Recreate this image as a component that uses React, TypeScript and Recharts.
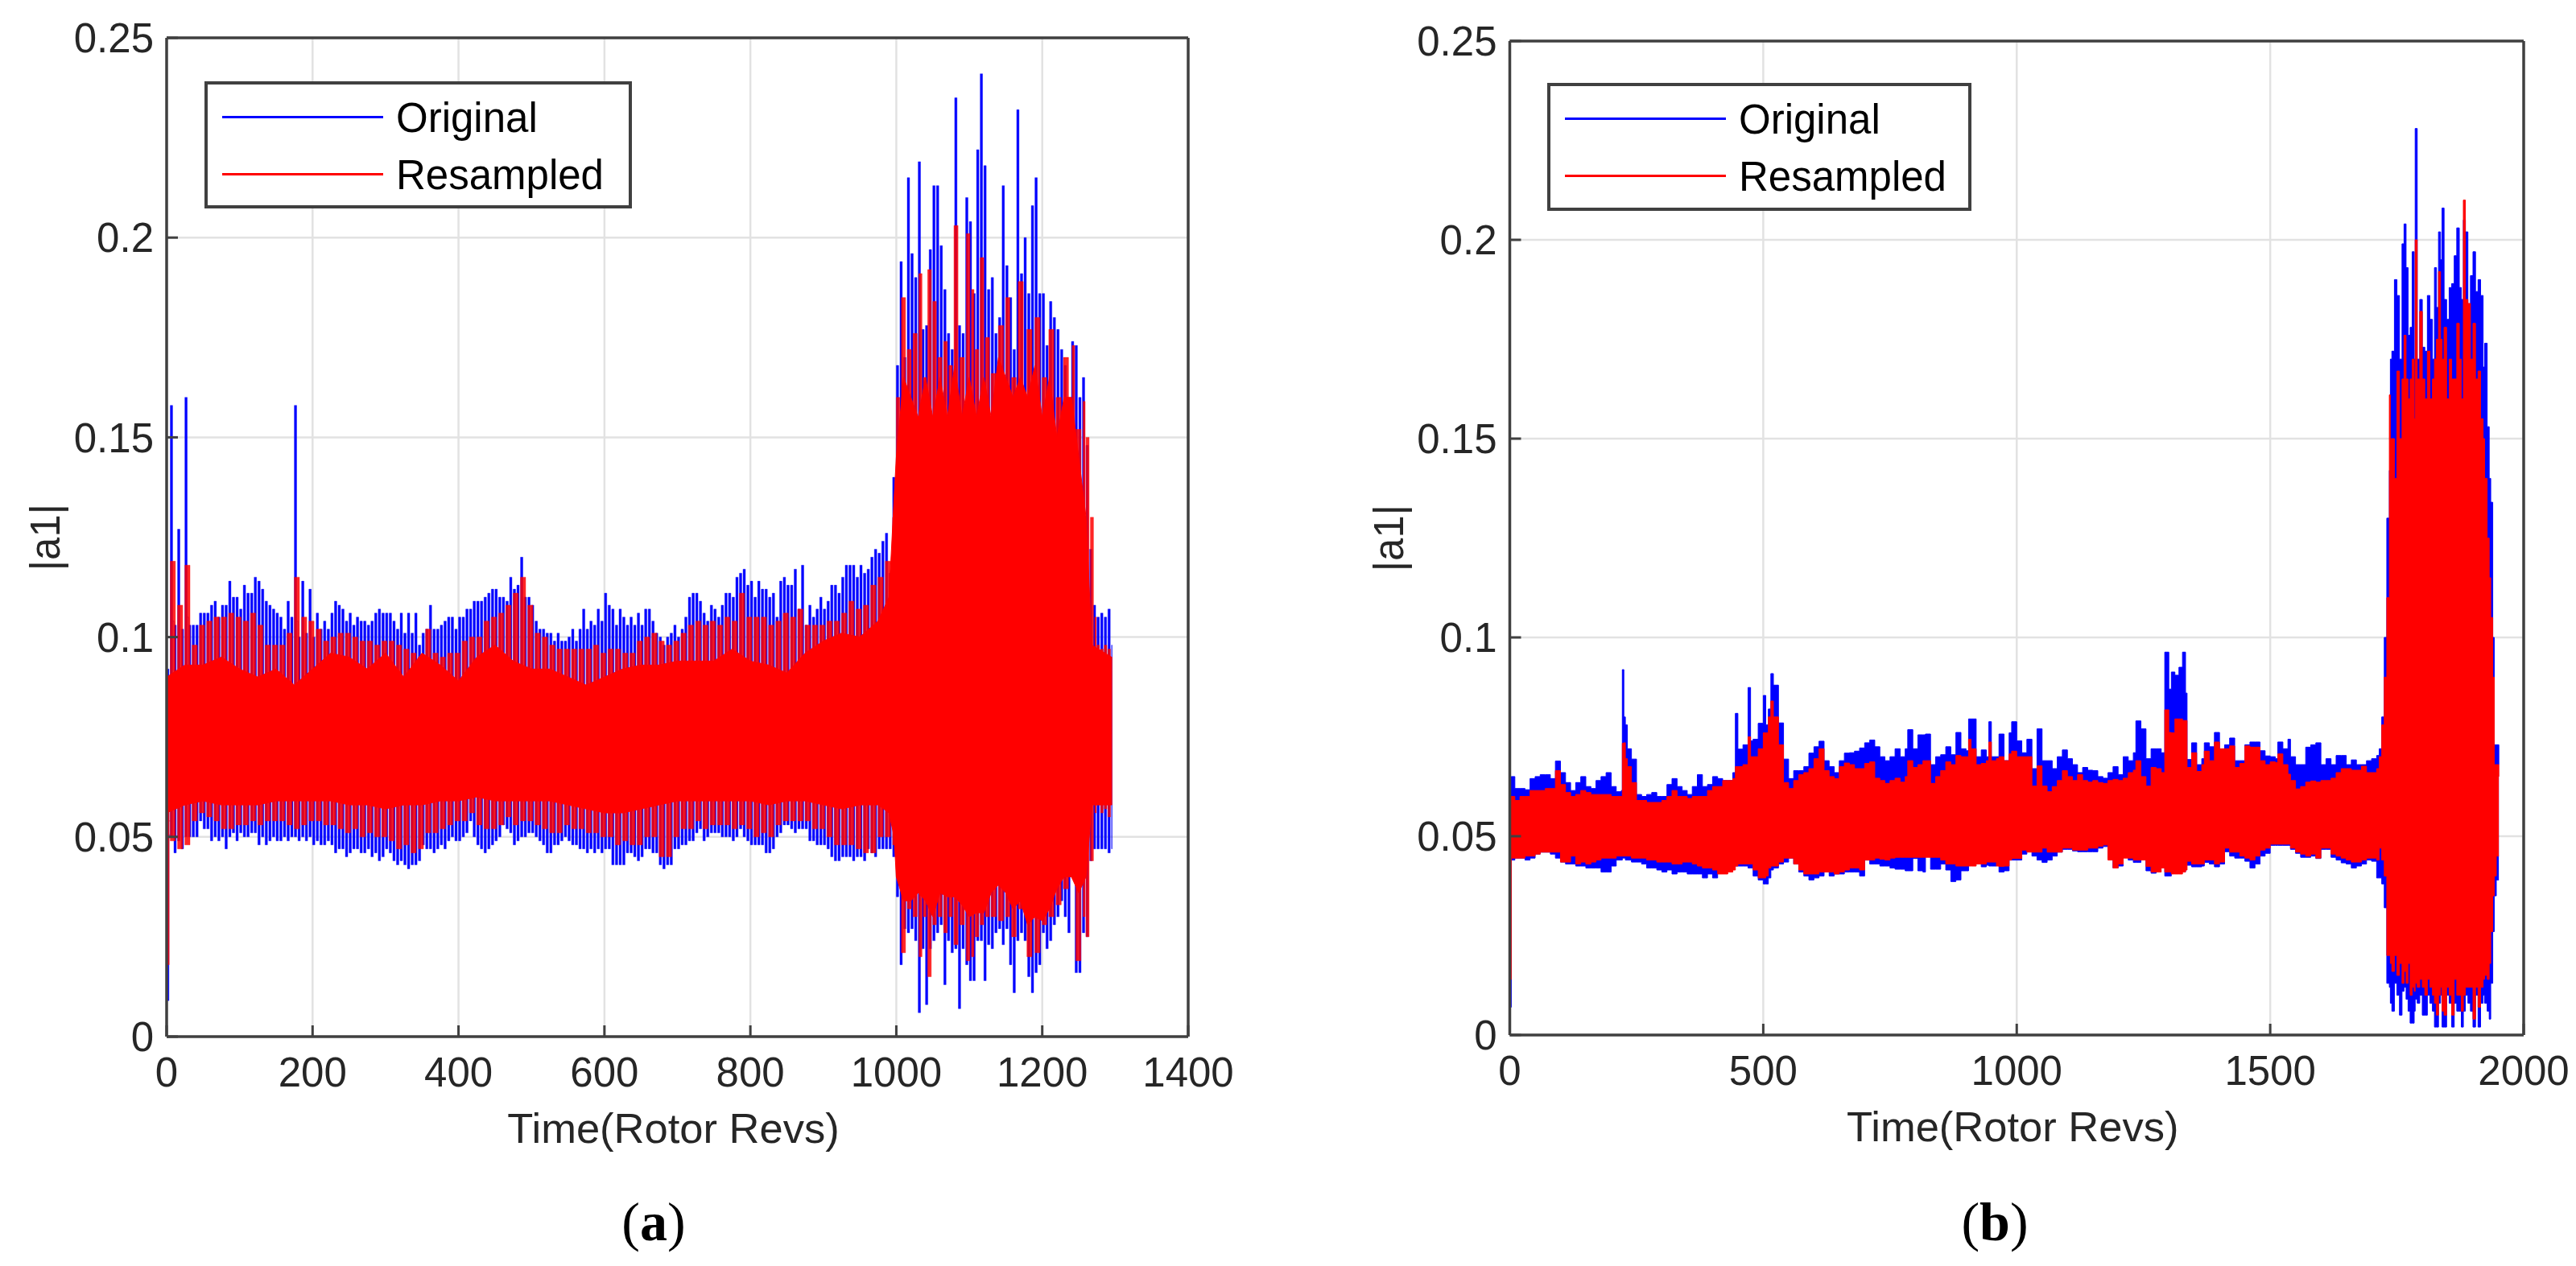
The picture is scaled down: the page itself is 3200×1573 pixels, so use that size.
import React from 'react';
import {
  Area,
  CartesianGrid,
  ComposedChart,
  Legend,
  XAxis,
  YAxis,
} from 'recharts';

const X_LABEL = 'Time(Rotor Revs)';
const Y_LABEL = '|a1|';
const SERIES_NAMES = ['Original', 'Resampled'];
const Y_TICKS = [0, 0.05, 0.1, 0.15, 0.2, 0.25];
const X_TICKS_A = [0, 200, 400, 600, 800, 1000, 1200, 1400];
const X_TICKS_B = [0, 500, 1000, 1500, 2000];

// Panel (a): original signal, one tooth per sample
const originalTimesA = [
  0, 5, 10, 15, 20, 25, 30, 35, 40, 45, 50, 55, 60, 65, 70, 75, 80, 85, 90, 95,
  100, 105, 110, 115, 120, 125, 130, 135, 140, 145, 150, 155, 160, 165, 170, 175, 180, 185, 190, 195,
  200, 205, 210, 215, 220, 225, 230, 235, 240, 245, 250, 255, 260, 265, 270, 275, 280, 285, 290, 295,
  300, 305, 310, 315, 320, 325, 330, 335, 340, 345, 350, 355, 360, 365, 370, 375, 380, 385, 390, 395,
  400, 405, 410, 415, 420, 425, 430, 435, 440, 445, 450, 455, 460, 465, 470, 475, 480, 485, 490, 495,
  500, 505, 510, 515, 520, 525, 530, 535, 540, 545, 550, 555, 560, 565, 570, 575, 580, 585, 590, 595,
  600, 605, 610, 615, 620, 625, 630, 635, 640, 645, 650, 655, 660, 665, 670, 675, 680, 685, 690, 695,
  700, 705, 710, 715, 720, 725, 730, 735, 740, 745, 750, 755, 760, 765, 770, 775, 780, 785, 790, 795,
  800, 805, 810, 815, 820, 825, 830, 835, 840, 845, 850, 855, 860, 865, 870, 875, 880, 885, 890, 895,
  900, 905, 910, 915, 920, 925, 930, 935, 940, 945, 950, 955, 960, 965, 970, 975, 980, 985, 990, 995,
  1000, 1005, 1010, 1015, 1020, 1025, 1030, 1035, 1040, 1045, 1050, 1055, 1060, 1065, 1070, 1075, 1080, 1085, 1090, 1095,
  1100, 1105, 1110, 1115, 1120, 1125, 1130, 1135, 1140, 1145, 1150, 1155, 1160, 1165, 1170, 1175, 1180, 1185, 1190, 1195,
  1200, 1205, 1210, 1215, 1220, 1225, 1230, 1235, 1240, 1245, 1250, 1255, 1260, 1265, 1270, 1275, 1280, 1285, 1290, 1295,
];
const originalHighA = [
  0.092, 0.158, 0.103, 0.127, 0.102, 0.16, 0.103, 0.103, 0.103, 0.106, 0.106, 0.106, 0.108, 0.109, 0.105, 0.108, 0.108, 0.114, 0.11, 0.11,
  0.107, 0.113, 0.111, 0.111, 0.115, 0.114, 0.112, 0.109, 0.108, 0.107, 0.106, 0.105, 0.102, 0.109, 0.105, 0.158, 0.1, 0.114, 0.101, 0.112,
  0.1, 0.106, 0.102, 0.104, 0.102, 0.106, 0.109, 0.108, 0.107, 0.104, 0.106, 0.103, 0.105, 0.104, 0.104, 0.103, 0.104, 0.106, 0.107, 0.106,
  0.106, 0.106, 0.104, 0.102, 0.106, 0.101, 0.106, 0.101, 0.106, 0.098, 0.101, 0.102, 0.108, 0.102, 0.102, 0.103, 0.104, 0.105, 0.105, 0.102,
  0.105, 0.105, 0.107, 0.107, 0.109, 0.109, 0.109, 0.11, 0.111, 0.112, 0.112, 0.11, 0.11, 0.109, 0.115, 0.112, 0.113, 0.12, 0.11, 0.11,
  0.108, 0.104, 0.102, 0.102, 0.101, 0.101, 0.099, 0.101, 0.099, 0.099, 0.1, 0.102, 0.099, 0.102, 0.107, 0.102, 0.104, 0.103, 0.107, 0.104,
  0.111, 0.108, 0.107, 0.103, 0.107, 0.105, 0.103, 0.105, 0.103, 0.106, 0.103, 0.107, 0.107, 0.104, 0.101, 0.1, 0.098, 0.1, 0.101, 0.103,
  0.1, 0.102, 0.105, 0.11, 0.111, 0.111, 0.109, 0.106, 0.104, 0.108, 0.107, 0.105, 0.108, 0.111, 0.111, 0.11, 0.115, 0.116, 0.117, 0.113,
  0.114, 0.11, 0.114, 0.112, 0.112, 0.11, 0.111, 0.105, 0.114, 0.115, 0.113, 0.113, 0.117, 0.107, 0.118, 0.103, 0.108, 0.105, 0.107, 0.11,
  0.107, 0.109, 0.113, 0.113, 0.111, 0.115, 0.118, 0.118, 0.118, 0.115, 0.118, 0.116, 0.117, 0.12, 0.122, 0.121, 0.124, 0.126, 0.116, 0.14,
  0.168, 0.194, 0.17, 0.215, 0.196, 0.19, 0.219, 0.177, 0.178, 0.197, 0.213, 0.213, 0.198, 0.187, 0.176, 0.172, 0.235, 0.178, 0.176, 0.21,
  0.204, 0.186, 0.222, 0.241, 0.218, 0.187, 0.19, 0.176, 0.18, 0.213, 0.193, 0.185, 0.172, 0.232, 0.191, 0.2, 0.186, 0.208, 0.215, 0.186,
  0.186, 0.173, 0.184, 0.18, 0.177, 0.172, 0.168, 0.157, 0.174, 0.173, 0.16, 0.165, 0.148, 0.122, 0.108, 0.105, 0.106, 0.105, 0.107, 0.098,
];
const originalLowA = [
  0.009, 0.05, 0.046, 0.049, 0.047, 0.05, 0.05, 0.05, 0.05, 0.054, 0.052, 0.052, 0.049, 0.05, 0.049, 0.05, 0.047, 0.05, 0.051, 0.049,
  0.051, 0.05, 0.05, 0.051, 0.051, 0.048, 0.05, 0.048, 0.049, 0.05, 0.049, 0.049, 0.05, 0.049, 0.05, 0.05, 0.049, 0.05, 0.049, 0.05,
  0.048, 0.049, 0.048, 0.048, 0.049, 0.048, 0.046, 0.047, 0.047, 0.045, 0.046, 0.047, 0.047, 0.046, 0.046, 0.047, 0.045, 0.046, 0.044, 0.045,
  0.047, 0.046, 0.044, 0.043, 0.044, 0.043, 0.042, 0.043, 0.043, 0.044, 0.048, 0.047, 0.047, 0.046, 0.047, 0.048, 0.047, 0.049, 0.05, 0.049,
  0.049, 0.05, 0.051, 0.054, 0.05, 0.048, 0.047, 0.046, 0.047, 0.048, 0.049, 0.05, 0.053, 0.052, 0.051, 0.048, 0.049, 0.05, 0.05, 0.051,
  0.051, 0.05, 0.049, 0.048, 0.046, 0.046, 0.048, 0.048, 0.049, 0.05, 0.049, 0.048, 0.048, 0.047, 0.047, 0.046, 0.047, 0.046, 0.047, 0.046,
  0.047, 0.047, 0.043, 0.043, 0.043, 0.043, 0.046, 0.046, 0.045, 0.044, 0.045, 0.047, 0.047, 0.046, 0.046, 0.043, 0.042, 0.043, 0.043, 0.047,
  0.047, 0.048, 0.048, 0.049, 0.049, 0.051, 0.052, 0.049, 0.05, 0.051, 0.051, 0.051, 0.05, 0.05, 0.05, 0.049, 0.05, 0.052, 0.05, 0.049,
  0.048, 0.048, 0.048, 0.048, 0.046, 0.046, 0.047, 0.05, 0.051, 0.053, 0.053, 0.052, 0.051, 0.052, 0.052, 0.052, 0.049, 0.049, 0.048, 0.048,
  0.048, 0.047, 0.045, 0.044, 0.044, 0.045, 0.045, 0.045, 0.044, 0.045, 0.045, 0.044, 0.047, 0.046, 0.045, 0.047, 0.047, 0.047, 0.047, 0.045,
  0.035, 0.018, 0.027, 0.026, 0.027, 0.024, 0.006, 0.022, 0.008, 0.022, 0.024, 0.026, 0.028, 0.013, 0.024, 0.021, 0.022, 0.007, 0.022, 0.018,
  0.014, 0.014, 0.024, 0.024, 0.014, 0.023, 0.022, 0.026, 0.027, 0.023, 0.027, 0.018, 0.011, 0.024, 0.026, 0.024, 0.015, 0.011, 0.016, 0.018,
  0.026, 0.022, 0.024, 0.028, 0.03, 0.034, 0.03, 0.026, 0.04, 0.016, 0.016, 0.026, 0.025, 0.044, 0.047, 0.047, 0.047, 0.047, 0.046, 0.047,
];

// Panel (a): resampled signal
const resampledTimesA = [
  0, 5, 15, 25, 35, 45, 55, 65, 75, 85,
  95, 105, 115, 125, 135, 145, 155, 165, 175, 185,
  195, 205, 215, 225, 235, 245, 255, 265, 275, 285,
  295, 305, 315, 325, 335, 345, 355, 365, 375, 385,
  395, 405, 415, 425, 435, 445, 455, 465, 475, 485,
  495, 505, 515, 525, 535, 545, 555, 565, 575, 585,
  595, 605, 615, 625, 635, 645, 655, 665, 675, 685,
  695, 705, 715, 725, 735, 745, 755, 765, 775, 785,
  795, 805, 815, 825, 835, 845, 855, 865, 875, 885,
  895, 905, 915, 925, 935, 945, 955, 965, 975, 985,
  995, 1000, 1007, 1015, 1023, 1031, 1037, 1043, 1050, 1057,
  1065, 1072, 1079, 1087, 1096, 1103, 1108, 1115, 1122, 1130,
  1140, 1150, 1158, 1167, 1179, 1190, 1200, 1209, 1219, 1229,
  1241, 1246, 1256, 1260, 1266, 1272, 1275, 1280, 1285, 1290,
  1295,
];
const resampledHighA = [
  0.09, 0.119, 0.108, 0.118, 0.098, 0.103, 0.104, 0.105, 0.105, 0.106,
  0.105, 0.104, 0.106, 0.103, 0.098, 0.098, 0.098, 0.101, 0.115, 0.105,
  0.104, 0.102, 0.099, 0.1, 0.101, 0.101, 0.1, 0.099, 0.099, 0.098,
  0.099, 0.099, 0.098, 0.097, 0.096, 0.095, 0.102, 0.096, 0.095, 0.096,
  0.096, 0.099, 0.1, 0.1, 0.104, 0.105, 0.106, 0.108, 0.111, 0.115,
  0.108, 0.101, 0.1, 0.098, 0.097, 0.097, 0.097, 0.097, 0.097, 0.098,
  0.096, 0.097, 0.097, 0.096, 0.096, 0.099, 0.1, 0.101, 0.099, 0.098,
  0.099, 0.101, 0.103, 0.104, 0.103, 0.104, 0.103, 0.105, 0.104, 0.111,
  0.105, 0.105, 0.105, 0.103, 0.104, 0.106, 0.105, 0.107, 0.103, 0.103,
  0.103, 0.104, 0.104, 0.106, 0.109, 0.107, 0.108, 0.113, 0.115, 0.119,
  0.13, 0.16, 0.185, 0.172, 0.176, 0.191, 0.165, 0.192, 0.184, 0.17,
  0.174, 0.168, 0.203, 0.17, 0.201, 0.187, 0.172, 0.195, 0.175, 0.166,
  0.178, 0.185, 0.165, 0.189, 0.177, 0.18, 0.165, 0.177, 0.16, 0.17,
  0.173, 0.152, 0.159, 0.15, 0.13, 0.105, 0.098, 0.097, 0.098, 0.097,
  0.095,
];
const resampledLowA = [
  0.018, 0.049, 0.047, 0.048, 0.054, 0.056, 0.055, 0.054, 0.052, 0.052,
  0.053, 0.053, 0.054, 0.053, 0.054, 0.054, 0.054, 0.053, 0.052, 0.053,
  0.054, 0.054, 0.053, 0.053, 0.052, 0.051, 0.052, 0.05, 0.051, 0.05,
  0.05, 0.049, 0.047, 0.048, 0.046, 0.047, 0.051, 0.051, 0.052, 0.053,
  0.054, 0.054, 0.056, 0.053, 0.052, 0.052, 0.053, 0.055, 0.053, 0.054,
  0.054, 0.053, 0.052, 0.051, 0.051, 0.053, 0.052, 0.052, 0.051, 0.051,
  0.05, 0.05, 0.048, 0.049, 0.048, 0.048, 0.05, 0.05, 0.045, 0.045,
  0.05, 0.052, 0.052, 0.054, 0.052, 0.053, 0.053, 0.053, 0.052, 0.053,
  0.052, 0.05, 0.051, 0.05, 0.053, 0.054, 0.054, 0.054, 0.054, 0.052,
  0.052, 0.05, 0.048, 0.048, 0.048, 0.047, 0.046, 0.046, 0.05, 0.05,
  0.048, 0.04, 0.021, 0.032, 0.03, 0.02, 0.03, 0.015, 0.028, 0.03,
  0.026, 0.03, 0.023, 0.028, 0.019, 0.02, 0.025, 0.028, 0.03, 0.03,
  0.029, 0.03, 0.025, 0.032, 0.02, 0.021, 0.028, 0.03, 0.033, 0.037,
  0.04, 0.019, 0.03, 0.025, 0.044, 0.056, 0.058, 0.056, 0.057, 0.055,
  0.058,
];

// Panel (a): solid part of the resampled band
const coreTimesA = [
  0, 25, 50, 75, 100, 125, 150, 175, 200, 225,
  250, 275, 300, 325, 350, 375, 400, 425, 450, 475,
  500, 525, 550, 575, 600, 625, 650, 675, 700, 725,
  750, 775, 800, 825, 850, 875, 900, 925, 950, 975,
  990, 997, 1000, 1010, 1020, 1030, 1040, 1050, 1060, 1070,
  1080, 1090, 1100, 1110, 1120, 1130, 1140, 1150, 1160, 1170,
  1180, 1190, 1200, 1210, 1220, 1230, 1240, 1250, 1260, 1268,
  1295,
];
const coreTopA = [
  0.09, 0.093, 0.093, 0.095, 0.092, 0.09, 0.092, 0.088, 0.092, 0.096,
  0.095, 0.092, 0.096, 0.09, 0.096, 0.093, 0.089, 0.095, 0.098, 0.094,
  0.092, 0.092, 0.09, 0.088, 0.09, 0.092, 0.093, 0.093, 0.094, 0.094,
  0.094, 0.097, 0.094, 0.093, 0.091, 0.096, 0.099, 0.101, 0.1, 0.104,
  0.11, 0.135, 0.145, 0.165, 0.16, 0.155, 0.165, 0.155, 0.165, 0.155,
  0.168, 0.155, 0.165, 0.155, 0.165, 0.155, 0.17, 0.165, 0.16, 0.165,
  0.16, 0.168, 0.155, 0.165, 0.15, 0.16, 0.16, 0.145, 0.13, 0.098,
  0.095,
];
const coreBottomA = [
  0.056, 0.058, 0.059, 0.058, 0.058, 0.058, 0.059, 0.059, 0.059, 0.059,
  0.058, 0.058, 0.057, 0.058, 0.058, 0.059, 0.059, 0.06, 0.059, 0.059,
  0.059, 0.059, 0.058, 0.057, 0.056, 0.056, 0.057, 0.058, 0.059, 0.059,
  0.059, 0.059, 0.059, 0.058, 0.059, 0.059, 0.058, 0.057, 0.058, 0.058,
  0.056, 0.05, 0.04, 0.034, 0.034, 0.036, 0.034, 0.03, 0.036, 0.035,
  0.035, 0.033, 0.03, 0.031, 0.031, 0.036, 0.038, 0.036, 0.032, 0.034,
  0.028, 0.03, 0.029, 0.032, 0.037, 0.04, 0.04, 0.036, 0.04, 0.058,
  0.058,
];

// Panel (b): both signals share the sample times
const timesB = [
  0, 3, 10, 20, 30, 40, 50, 60, 70, 80,
  90, 100, 110, 120, 130, 140, 150, 160, 170, 180,
  190, 200, 210, 220, 222, 225, 228, 232, 240, 250,
  260, 270, 280, 290, 300, 310, 320, 330, 340, 350,
  360, 370, 380, 390, 400, 410, 420, 430, 440, 445,
  450, 460, 470, 475, 480, 490, 500, 505, 510, 515,
  520, 530, 540, 550, 560, 570, 580, 590, 600, 610,
  620, 630, 640, 650, 660, 670, 680, 690, 700, 710,
  720, 730, 740, 750, 760, 770, 780, 785, 795, 805,
  815, 820, 830, 840, 850, 860, 870, 880, 890, 900,
  905, 910, 920, 930, 940, 945, 950, 960, 965, 975,
  985, 990, 1000, 1010, 1020, 1030, 1040, 1050, 1060, 1070,
  1080, 1090, 1100, 1110, 1120, 1130, 1140, 1150, 1160, 1170,
  1180, 1190, 1200, 1210, 1220, 1230, 1235, 1245, 1255, 1265,
  1275, 1285, 1292, 1300, 1305, 1312, 1320, 1327, 1333, 1336,
  1345, 1355, 1365, 1370, 1380, 1390, 1400, 1410, 1420, 1430,
  1440, 1450, 1460, 1470, 1480, 1490, 1500, 1510, 1515, 1525,
  1535, 1540, 1550, 1560, 1570, 1580, 1590, 1600, 1610, 1620,
  1630, 1640, 1650, 1660, 1670, 1680, 1690, 1700, 1710, 1715,
  1720, 1725, 1730, 1735, 1737, 1740, 1745, 1750, 1755, 1760,
  1764, 1768, 1772, 1776, 1780, 1784, 1786, 1790, 1795, 1800,
  1805, 1810, 1815, 1820, 1824, 1828, 1832, 1836, 1839, 1843,
  1848, 1853, 1858, 1863, 1868, 1873, 1877, 1881, 1885, 1890,
  1895, 1900, 1905, 1910, 1915, 1920, 1923, 1928, 1932, 1935,
  1939, 1942, 1946, 1951,
];
const originalHighB = [
  0.065, 0.065, 0.062, 0.062, 0.0617, 0.0645, 0.065, 0.0655, 0.0655, 0.0645,
  0.0689, 0.066, 0.0635, 0.0615, 0.0635, 0.065, 0.0625, 0.062, 0.064, 0.065,
  0.066, 0.0625, 0.0612, 0.0615, 0.0919, 0.08, 0.078, 0.072, 0.0694, 0.0605,
  0.06, 0.0605, 0.061, 0.06, 0.06, 0.063, 0.0645, 0.0625, 0.0615, 0.0605,
  0.0625, 0.0655, 0.0625, 0.063, 0.065, 0.0645, 0.064, 0.064, 0.066, 0.0809,
  0.0719, 0.073, 0.0874, 0.074, 0.0744, 0.0784, 0.0854, 0.078, 0.082, 0.0909,
  0.088, 0.0785, 0.0694, 0.0645, 0.0665, 0.0665, 0.0675, 0.0709, 0.0725, 0.0739,
  0.069, 0.0675, 0.066, 0.069, 0.0709, 0.071, 0.0714, 0.0722, 0.0735, 0.0742,
  0.0725, 0.07, 0.069, 0.07, 0.072, 0.07, 0.072, 0.0768, 0.072, 0.0755,
  0.0755, 0.0757, 0.068, 0.07, 0.0705, 0.0725, 0.0705, 0.0761, 0.072, 0.0715,
  0.0795, 0.0795, 0.07, 0.0717, 0.07, 0.0788, 0.07, 0.07, 0.0757, 0.069,
  0.076, 0.0788, 0.074, 0.071, 0.0744, 0.067, 0.077, 0.069, 0.069, 0.067,
  0.07, 0.0717, 0.0695, 0.068, 0.066, 0.0673, 0.0666, 0.0665, 0.065, 0.0646,
  0.066, 0.0675, 0.0655, 0.07, 0.069, 0.071, 0.079, 0.077, 0.0695, 0.072,
  0.072, 0.071, 0.0963, 0.087, 0.0913, 0.0905, 0.0925, 0.0963, 0.086, 0.0693,
  0.0735, 0.068, 0.0695, 0.0735, 0.0725, 0.0761, 0.069, 0.073, 0.0747, 0.069,
  0.069, 0.073, 0.0737, 0.0737, 0.0715, 0.0702, 0.07, 0.0695, 0.0737, 0.072,
  0.0744, 0.07, 0.068, 0.068, 0.0724, 0.073, 0.0735, 0.068, 0.0695, 0.068,
  0.0703, 0.0703, 0.068, 0.0692, 0.068, 0.068, 0.069, 0.0695, 0.0703, 0.072,
  0.08, 0.1, 0.13, 0.142, 0.17, 0.172, 0.19, 0.186, 0.17, 0.199,
  0.204, 0.193, 0.176, 0.178, 0.197, 0.17, 0.228, 0.17, 0.185, 0.173,
  0.172, 0.186, 0.18, 0.17, 0.193, 0.183, 0.202, 0.195, 0.208, 0.185,
  0.18, 0.188, 0.189, 0.196, 0.203, 0.188, 0.185, 0.205, 0.202, 0.178,
  0.191, 0.197, 0.187, 0.19, 0.186, 0.168, 0.174, 0.153, 0.14, 0.134,
  0.1, 0.073, 0.073, 0.068,
];
const originalLowB = [
  0.007, 0.044, 0.0445, 0.0445, 0.044, 0.0445, 0.0455, 0.046, 0.046, 0.0455,
  0.0445, 0.0435, 0.043, 0.043, 0.0425, 0.0425, 0.042, 0.042, 0.042, 0.041,
  0.041, 0.0425, 0.044, 0.044, 0.0445, 0.0445, 0.044, 0.044, 0.0435, 0.0435,
  0.043, 0.042, 0.042, 0.0415, 0.041, 0.0415, 0.0405, 0.041, 0.041, 0.0405,
  0.0405, 0.0405, 0.0395, 0.0405, 0.0395, 0.041, 0.0415, 0.042, 0.0425, 0.0425,
  0.0425, 0.0425, 0.042, 0.042, 0.04, 0.039, 0.038, 0.038, 0.0395, 0.0415,
  0.042, 0.043, 0.0435, 0.0445, 0.043, 0.041, 0.04, 0.039, 0.0395, 0.04,
  0.041, 0.04, 0.0405, 0.0405, 0.041, 0.041, 0.041, 0.04, 0.044, 0.043,
  0.043, 0.0425, 0.0425, 0.042, 0.0417, 0.0417, 0.0413, 0.0413, 0.0444, 0.0413,
  0.041, 0.0457, 0.0417, 0.0417, 0.043, 0.0415, 0.0386, 0.039, 0.0413, 0.0413,
  0.043, 0.0447, 0.0447, 0.0423, 0.0427, 0.0425, 0.0425, 0.0427, 0.041, 0.0413,
  0.044, 0.044, 0.044, 0.0455, 0.0467, 0.045, 0.044, 0.0434, 0.044, 0.045,
  0.046, 0.0467, 0.0467, 0.0463, 0.0461, 0.0461, 0.0461, 0.0461, 0.047, 0.0474,
  0.0444, 0.042, 0.0425, 0.045, 0.044, 0.0434, 0.0434, 0.045, 0.0413, 0.0407,
  0.042, 0.043, 0.04, 0.04, 0.041, 0.041, 0.041, 0.041, 0.043, 0.0427,
  0.0423, 0.0423, 0.0425, 0.0434, 0.043, 0.0423, 0.043, 0.0461, 0.045, 0.0445,
  0.0445, 0.0437, 0.042, 0.043, 0.045, 0.0457, 0.0477, 0.0477, 0.0477, 0.0477,
  0.0477, 0.0467, 0.0457, 0.0447, 0.0447, 0.045, 0.0444, 0.0467, 0.0467, 0.0447,
  0.044, 0.0433, 0.043, 0.042, 0.0425, 0.043, 0.044, 0.0437, 0.0395, 0.0395,
  0.038, 0.032, 0.013, 0.012, 0.008, 0.006, 0.013, 0.01, 0.005, 0.011,
  0.012, 0.009, 0.006, 0.003, 0.003, 0.006, 0.009, 0.008, 0.01, 0.005,
  0.005, 0.01, 0.008, 0.006, 0.002, 0.002, 0.008, 0.01, 0.002, 0.002,
  0.01, 0.008, 0.002, 0.008, 0.006, 0.006, 0.002, 0.006, 0.01, 0.008,
  0.006, 0.002, 0.01, 0.002, 0.008, 0.01, 0.008, 0.006, 0.004, 0.013,
  0.026, 0.035, 0.039, 0.039,
];
const resampledHighB = [
  0.06, 0.06, 0.059, 0.06, 0.06, 0.0615, 0.0615, 0.0615, 0.062, 0.062,
  0.0665, 0.063, 0.061, 0.06, 0.0605, 0.0615, 0.061, 0.0605, 0.0605, 0.0605,
  0.0605, 0.06, 0.06, 0.06, 0.0734, 0.0735, 0.0695, 0.0675, 0.0635, 0.059,
  0.059, 0.0585, 0.0585, 0.0585, 0.059, 0.06, 0.0615, 0.06, 0.06, 0.0595,
  0.06, 0.06, 0.06, 0.0615, 0.0625, 0.0625, 0.064, 0.064, 0.0645, 0.0675,
  0.0675, 0.068, 0.075, 0.07, 0.07, 0.072, 0.076, 0.076, 0.08, 0.084,
  0.08, 0.073, 0.0635, 0.062, 0.064, 0.0655, 0.066, 0.067, 0.0695, 0.072,
  0.0665, 0.065, 0.0645, 0.0675, 0.0684, 0.068, 0.067, 0.067, 0.0683, 0.0687,
  0.0646, 0.064, 0.0633, 0.064, 0.0646, 0.0636, 0.065, 0.069, 0.0673, 0.068,
  0.069, 0.069, 0.0633, 0.065, 0.0665, 0.0687, 0.068, 0.0703, 0.07, 0.07,
  0.0744, 0.072, 0.068, 0.0683, 0.069, 0.0737, 0.069, 0.0695, 0.07, 0.069,
  0.0707, 0.0714, 0.07, 0.07, 0.07, 0.0626, 0.0677, 0.0626, 0.0612, 0.0625,
  0.064, 0.0665, 0.065, 0.064, 0.0655, 0.064, 0.0636, 0.064, 0.0635, 0.0633,
  0.064, 0.0643, 0.064, 0.0646, 0.066, 0.0666, 0.069, 0.065, 0.0626, 0.0673,
  0.067, 0.066, 0.0818, 0.0761, 0.076, 0.0795, 0.0795, 0.0791, 0.0791, 0.0673,
  0.071, 0.0663, 0.068, 0.0714, 0.069, 0.0737, 0.072, 0.072, 0.0727, 0.0673,
  0.0683, 0.0727, 0.0724, 0.0724, 0.069, 0.068, 0.0687, 0.0685, 0.0707, 0.068,
  0.0656, 0.064, 0.0619, 0.0625, 0.0636, 0.0639, 0.0636, 0.064, 0.064, 0.0646,
  0.066, 0.067, 0.067, 0.0666, 0.0666, 0.0676, 0.066, 0.066, 0.067, 0.07,
  0.078, 0.09, 0.11, 0.161, 0.15, 0.15, 0.14, 0.167, 0.15, 0.165,
  0.176, 0.165, 0.16, 0.165, 0.17, 0.155, 0.2, 0.165, 0.182, 0.165,
  0.16, 0.172, 0.16, 0.165, 0.17, 0.175, 0.192, 0.175, 0.17, 0.178,
  0.16, 0.17, 0.165, 0.165, 0.179, 0.17, 0.16, 0.21, 0.185, 0.184,
  0.17, 0.179, 0.165, 0.167, 0.155, 0.15, 0.14, 0.125, 0.115, 0.105,
  0.09, 0.068, 0.068, 0.065,
];
const resampledLowB = [
  0.014, 0.0445, 0.0445, 0.0445, 0.045, 0.045, 0.0455, 0.046, 0.046, 0.046,
  0.046, 0.0435, 0.0435, 0.045, 0.043, 0.0435, 0.043, 0.0435, 0.044, 0.0445,
  0.0445, 0.0445, 0.045, 0.045, 0.045, 0.045, 0.045, 0.045, 0.0445, 0.0445,
  0.0445, 0.044, 0.044, 0.0435, 0.0435, 0.0435, 0.043, 0.043, 0.0435, 0.0435,
  0.043, 0.0425, 0.042, 0.042, 0.0415, 0.0405, 0.0405, 0.041, 0.0415, 0.0425,
  0.043, 0.043, 0.043, 0.043, 0.0415, 0.0395, 0.0395, 0.04, 0.042, 0.0425,
  0.0425, 0.0435, 0.0445, 0.0445, 0.043, 0.0415, 0.0405, 0.0405, 0.0405, 0.041,
  0.041, 0.041, 0.0405, 0.041, 0.0415, 0.042, 0.042, 0.0415, 0.044, 0.044,
  0.0445, 0.0442, 0.044, 0.0445, 0.0447, 0.0447, 0.0447, 0.0447, 0.0447, 0.0447,
  0.0447, 0.0447, 0.0447, 0.0447, 0.044, 0.043, 0.043, 0.0425, 0.0425, 0.0425,
  0.0425, 0.0425, 0.043, 0.043, 0.0435, 0.0435, 0.0435, 0.0425, 0.0424, 0.0425,
  0.044, 0.0444, 0.0444, 0.0465, 0.046, 0.046, 0.046, 0.047, 0.046, 0.046,
  0.046, 0.047, 0.047, 0.0465, 0.0465, 0.0465, 0.047, 0.047, 0.0475, 0.0478,
  0.044, 0.042, 0.043, 0.0445, 0.0445, 0.044, 0.044, 0.044, 0.0424, 0.041,
  0.041, 0.042, 0.041, 0.041, 0.0405, 0.0405, 0.0405, 0.041, 0.0415, 0.0437,
  0.043, 0.043, 0.043, 0.044, 0.044, 0.043, 0.0435, 0.047, 0.046, 0.046,
  0.045, 0.0445, 0.044, 0.045, 0.0465, 0.047, 0.048, 0.048, 0.048, 0.048,
  0.048, 0.047, 0.046, 0.0455, 0.045, 0.0455, 0.0445, 0.047, 0.047, 0.0455,
  0.045, 0.0445, 0.044, 0.0435, 0.0435, 0.044, 0.0445, 0.0445, 0.044, 0.047,
  0.044, 0.04, 0.02, 0.02, 0.018, 0.016, 0.02, 0.015, 0.018, 0.013,
  0.016, 0.013, 0.018, 0.01, 0.012, 0.011, 0.013, 0.012, 0.014, 0.012,
  0.01, 0.014, 0.012, 0.01, 0.008, 0.005, 0.01, 0.012, 0.006, 0.005,
  0.012, 0.01, 0.005, 0.014, 0.01, 0.01, 0.006, 0.01, 0.012, 0.012,
  0.012, 0.004, 0.012, 0.007, 0.012, 0.014, 0.015, 0.014, 0.018, 0.026,
  0.035, 0.04, 0.045, 0.045,
];

const FONT = '"Liberation Sans", Arial, sans-serif';
const TEXT_COLOR = '#262626';
const AXIS_COLOR = '#404040';
const GRID_COLOR = '#e2e2e2';
const BLUE = '#0000ff';
const RED = '#ff0000';

const bandRows = (times: number[], high: number[], low: number[]) =>
  times.map((t, i) => ({ t, band: [low[i], high[i]] }));

// teeth with gaps: each sample is a short full-height block, then the band collapses
const combRows = (times: number[], high: number[], low: number[], tooth: number) =>
  times.flatMap((t, i) => {
    const next = i + 1 < times.length ? times[i + 1] : t + 1;
    const mid = (low[i] + high[i]) / 2;
    return [
      { t, band: [low[i], high[i]] },
      { t: t + Math.min(tooth, (next - t) * 0.7), band: [mid, mid] },
    ];
  });

const LegendBox = ({ payload }: any) => {
  const items = (payload || []).filter((p: any) => SERIES_NAMES.includes(p.value));
  return (
    <div
      style={{
        boxSizing: 'border-box',
        width: '100%',
        height: '100%',
        background: '#fff',
        border: `4px solid ${AXIS_COLOR}`,
        position: 'relative',
        fontFamily: FONT,
        fontSize: 51,
        color: '#000',
      }}
    >
      {items.map((item: any, i: number) => (
        <div key={item.value} style={{ position: 'absolute', left: 0, top: 39 + i * 71, height: 3, width: '100%' }}>
          <div style={{ position: 'absolute', left: 18, top: 0, width: 200, height: 3, background: item.color }} />
          <div style={{ position: 'absolute', left: 234, top: -32, lineHeight: '70px', whiteSpace: 'nowrap' }}>
            {item.value}
          </div>
        </div>
      ))}
    </div>
  );
};

const PanelFrame = ({ left, margin, xTicks, xMax, legendPos, children }: any) => {
  const tick = { fontFamily: FONT, fontSize: 51, fill: TEXT_COLOR };
  const axisLine = { stroke: AXIS_COLOR, strokeWidth: 3.5 };
  const tickLine = { stroke: AXIS_COLOR, strokeWidth: 3 };
  return (
    <div style={{ position: 'absolute', left, top: 0 }}>
      <ComposedChart width={1600} height={1573} margin={margin}>
        <CartesianGrid stroke={GRID_COLOR} strokeWidth={2.5} />
        <XAxis
          dataKey="t"
          type="number"
          domain={[0, xMax]}
          ticks={xTicks}
          height={1}
          interval={0}
          allowDataOverflow
          tick={tick}
          tickSize={-14}
          tickMargin={40}
          axisLine={axisLine}
          tickLine={tickLine}
          label={{ value: X_LABEL, position: 'bottom', offset: 94, dx: -5, style: { ...tick, fontSize: 52.5 } }}
        />
        <XAxis
          xAxisId="top"
          orientation="top"
          dataKey="t"
          type="number"
          domain={[0, xMax]}
          ticks={xTicks}
          height={1}
          interval={0}
          tick={false}
          tickSize={-14}
          axisLine={axisLine}
          tickLine={tickLine}
        />
        <YAxis
          type="number"
          domain={[0, 0.25]}
          ticks={Y_TICKS}
          width={1}
          interval={0}
          allowDataOverflow
          tick={tick}
          tickSize={-14}
          tickMargin={30}
          axisLine={axisLine}
          tickLine={tickLine}
          label={{ value: Y_LABEL, angle: -90, position: 'left', offset: 150, textAnchor: 'middle', style: { ...tick } }}
        />
        <YAxis
          yAxisId="right"
          orientation="right"
          type="number"
          domain={[0, 0.25]}
          ticks={Y_TICKS}
          width={1}
          interval={0}
          tick={false}
          tickSize={-14}
          axisLine={axisLine}
          tickLine={tickLine}
        />
        {children}
        <Legend
          layout="vertical"
          align="center"
          verticalAlign="middle"
          wrapperStyle={legendPos}
          content={<LegendBox />}
        />
      </ComposedChart>
    </div>
  );
};

const Caption = ({ letter, center }: { letter: string; center: number }) => (
  <div
    style={{
      position: 'absolute',
      left: center - 100,
      width: 200,
      top: 1478,
      textAlign: 'center',
      fontFamily: '"Liberation Serif", serif',
      fontSize: 68,
      lineHeight: '80px',
      color: '#000',
    }}
  >
    (<b>{letter}</b>)
  </div>
);

export default function App() {
  return (
    <div style={{ position: 'absolute', left: 0, top: 0, width: 3200, height: 1573, background: '#fff' }}>
      <PanelFrame
        left={0}
        margin={{ top: 46, right: 123, bottom: 284, left: 206 }}
        xTicks={X_TICKS_A}
        xMax={1400}
        legendPos={{ left: 254, top: 101, width: 531, height: 158 }}
      >
        <Area
          data={combRows(originalTimesA, originalHighA, originalLowA, 3.2)}
          dataKey="band"
          name="Original"
          type="stepAfter"
          fill={BLUE}
          fillOpacity={1}
          stroke={BLUE}
          strokeWidth={0.4}
          dot={false}
          isAnimationActive={false}
        />
        <Area
          data={combRows(resampledTimesA, resampledHighA, resampledLowA, 7)}
          dataKey="band"
          name="Resampled"
          type="stepAfter"
          fill={RED}
          fillOpacity={0.85}
          stroke={RED}
          strokeWidth={0.4}
          dot={false}
          isAnimationActive={false}
        />
        <Area
          data={bandRows(coreTimesA, coreTopA, coreBottomA)}
          dataKey="band"
          name="core"
          fill={RED}
          fillOpacity={1}
          stroke={RED}
          strokeWidth={1}
          dot={false}
          isAnimationActive={false}
        />
      </PanelFrame>
      <PanelFrame
        left={1600}
        margin={{ top: 50, right: 64, bottom: 286, left: 274.5 }}
        xTicks={X_TICKS_B}
        xMax={2000}
        legendPos={{ left: 322, top: 103, width: 527, height: 159 }}
      >
        <Area
          data={bandRows(timesB, originalHighB, originalLowB)}
          dataKey="band"
          name="Original"
          type="stepAfter"
          fill={BLUE}
          fillOpacity={1}
          stroke={BLUE}
          strokeWidth={1}
          dot={false}
          isAnimationActive={false}
        />
        <Area
          data={bandRows(timesB, resampledHighB, resampledLowB)}
          dataKey="band"
          name="Resampled"
          type="stepAfter"
          fill={RED}
          fillOpacity={1}
          stroke={RED}
          strokeWidth={1}
          dot={false}
          isAnimationActive={false}
        />
      </PanelFrame>
      <Caption letter="a" center={812} />
      <Caption letter="b" center={2478} />
    </div>
  );
}
